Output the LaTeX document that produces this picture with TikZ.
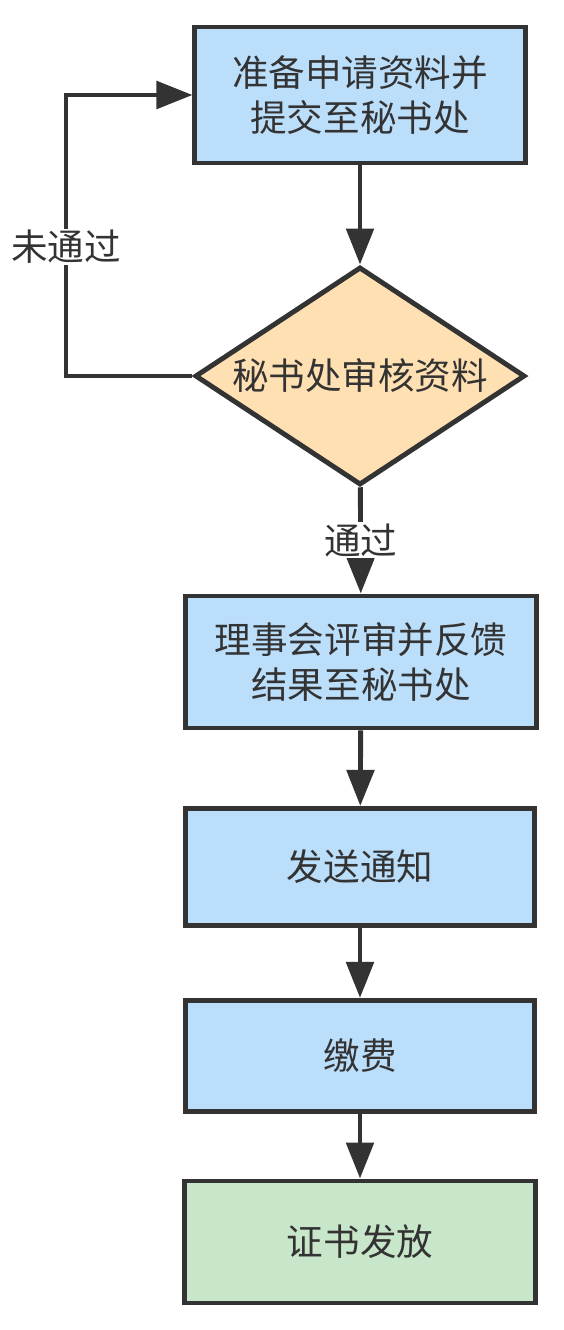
\documentclass[tikz,border=0pt]{standalone}
\usepackage{fontspec}
\newfontfamily\cjk{Noto Sans CJK SC}
\usepackage{tikz}
\usetikzlibrary{arrows.meta, shapes.geometric}

\definecolor{inkgray}{HTML}{333333}
\definecolor{boxblue}{HTML}{BBDEFB}
\definecolor{boxorange}{HTML}{FFE0B2}
\definecolor{boxgreen}{HTML}{C8E6C9}

\begin{document}
\begin{tikzpicture}[x=0.025cm, y=-0.025cm,
  flow/.style={draw=inkgray, line width=3.5pt,
    -{Triangle[length=0.9cm, width=0.68cm]}},
  stepbox/.style={draw=inkgray, line width=3.5pt, fill=boxblue,
    text=inkgray, align=center, inner sep=0pt,
    font=\cjk\fontsize{26}{32}\selectfont},
  decide/.style={diamond, aspect=1.5, draw=inkgray, line width=3.5pt,
    fill=boxorange, text=inkgray, inner sep=0pt,
    minimum width=8.25cm, minimum height=5.45cm,
    font=\cjk\fontsize{26}{32}\selectfont},
  lbl/.style={fill=white, text=inkgray, inner sep=1pt,
    font=\cjk\fontsize{26}{32}\selectfont}]

% Layout constants (pixels of the reference)
\def\cx{360}   % centre line of the flow

\useasboundingbox (0,0) rectangle (564,1330);

%% ---- steps -------------------------
\node[stepbox, minimum width=8.25cm, minimum height=3.4cm]
  (prep) at (\cx,95) {准备申请资料并\\提交至秘书处};
\node[decide] (review) at (\cx,376) {秘书处审核资料};
\node[stepbox, minimum width=8.78cm, minimum height=3.3cm]
  (council) at (361,662) {理事会评审并反馈\\结果至秘书处};
\node[stepbox, minimum width=8.72cm, minimum height=2.93cm]
  (notice) at (\cx,867) {发送通知};
\node[stepbox, minimum width=8.72cm, minimum height=2.78cm]
  (fee) at (\cx,1056) {缴费};
\node[stepbox, fill=boxgreen, minimum width=8.75cm, minimum height=3.05cm]
  (cert) at (\cx,1242) {证书发放};

%% ---- connectors -------------------------
\coordinate (back) at (66,376);
\draw[flow] (prep) -- (review);
\draw[flow] (review.west) -- (back) |- node[lbl, pos=0.23] {未通过} (prep.west);
\draw[flow] (review) -- node[lbl] {通过} (council);
\draw[flow] (council) -- (notice);
\draw[flow] (notice) -- (fee);
\draw[flow] (fee) -- (cert);

\end{tikzpicture}
\end{document}
